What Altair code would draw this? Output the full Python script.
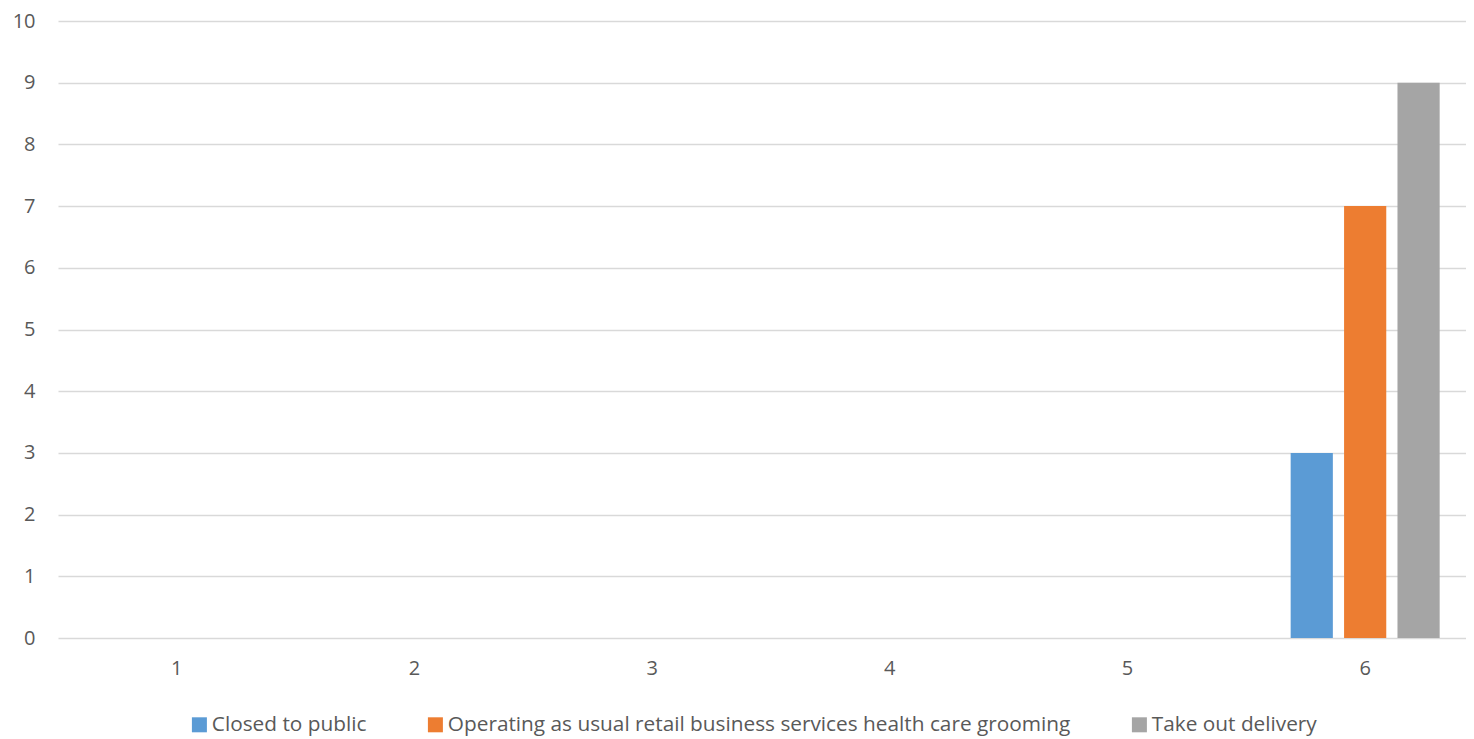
import altair as alt
import pandas as pd

categories = ["1", "2", "3", "4", "5", "6"]
series = ["Closed to public",
          "Operating as usual retail business services health care grooming",
          "Take out delivery"]
closed = [0, 0, 0, 0, 0, 3]
operating = [0, 0, 0, 0, 0, 7]
takeout = [0, 0, 0, 0, 0, 9]
colors = ["#5B9BD5", "#ED7D31", "#A5A5A5"]

rows = []
for s, vals in zip(series, [closed, operating, takeout]):
    for c, v in zip(categories, vals):
        rows.append({"cat": c, "series": s, "value": v})
df = pd.DataFrame(rows)

font = "Open Sans"

chart = alt.Chart(df).mark_bar().encode(
    x=alt.X("cat:N", sort=categories, title=None,
            scale=alt.Scale(paddingInner=0, paddingOuter=0, range=[0, 1426]),
            axis=alt.Axis(labelAngle=0, domain=False, ticks=False, labelPadding=20,
                          labelFont=font, labelFontSize=20, labelColor="#595959")),
    xOffset=alt.XOffset("series:N", sort=series,
                        scale=alt.Scale(paddingInner=0.21, paddingOuter=0.83)),
    y=alt.Y("value:Q", title=None,
            scale=alt.Scale(domain=[0, 10], nice=False),
            axis=alt.Axis(values=list(range(0, 11)), domain=False, ticks=False,
                          labelPadding=23, gridColor="#D9D9D9", gridWidth=1.5,
                          labelFont=font, labelFontSize=20, labelColor="#595959")),
    color=alt.Color("series:N", sort=series,
                    scale=alt.Scale(domain=series, range=colors),
                    legend=alt.Legend(title=None, orient="none", direction="horizontal",
                                      legendX=131, legendY=693,
                                      symbolType="square", symbolSize=225,
                                      symbolStrokeWidth=0, symbolOpacity=1,
                                      labelFont=font, labelFontSize=20.8,
                                      labelColor="#595959", columnPadding=58,
                                      labelOffset=2, labelLimit=1000)),
).properties(
    width=1408, height=617,
    padding={"left": 50, "top": 13, "right": 0, "bottom": 100},
    autosize=alt.AutoSizeParams(type="none"),
).configure_view(stroke=None)

chart.save("out.html", embed_options={"renderer": "svg", "actions": False})
